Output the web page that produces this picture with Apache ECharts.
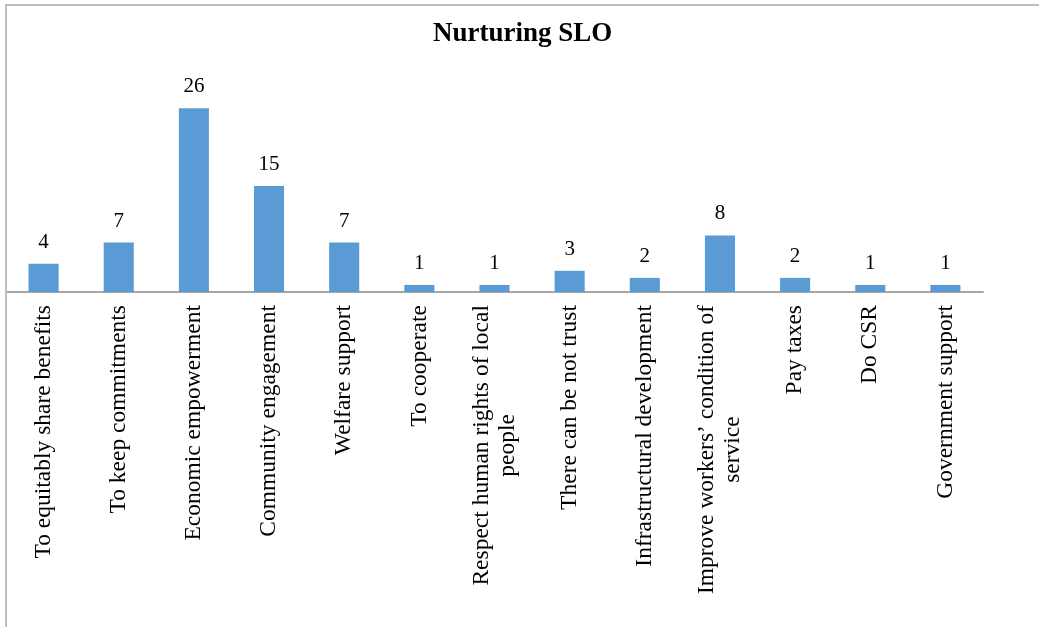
<!DOCTYPE html>
<html lang="en">

<head>
    <meta charset="UTF-8">
    <title>Nurturing SLO</title>
    <script src="https://cdn.jsdelivr.net/npm/echarts@6/dist/echarts.min.js"></script>
    <style>
        body { margin: 0; background: #fff; }
        #main { position: absolute; left: 0; top: 0; width: 1039px; height: 627px; }
        /* frame of the original chart area: only top and left edges show */
        #frame {
            position: absolute; left: 5px; top: 4px; width: 1034px; height: 623px;
            border-top: 2px solid #bdbdbd; border-left: 2px solid #bdbdbd;
            box-sizing: border-box; pointer-events: none;
        }
    </style>
</head>

<body>
    <div id="main"></div>
    <div id="frame"></div>

    <script type="text/javascript">
        // categories ('\n' marks where the label wraps)
        const categories = [
            'To equitably share benefits',
            'To keep commitments',
            'Economic empowerment',
            'Community engagement',
            'Welfare support',
            'To cooperate',
            'Respect human rights of local\npeople',
            'There can be not trust',
            'Infrastructural development',
            'Improve workers’ condition of\nservice',
            'Pay taxes',
            'Do CSR',
            'Government support'
        ];
        const counts = [4, 7, 26, 15, 7, 1, 1, 3, 2, 8, 2, 1, 1];

        const serif = "'Liberation Serif', 'Times New Roman', serif";

        var myChart = echarts.init(document.getElementById('main'));

        option = {
            animation: false,
            title: {
                text: 'Nurturing SLO',
                left: 433,
                top: 21,
                padding: 0,
                textStyle: {
                    fontFamily: serif,
                    fontWeight: 'bold',
                    fontSize: 27,
                    color: '#000'
                }
            },
            grid: {
                left: 6,
                right: 56,
                top: 80,
                bottom: 335
            },
            xAxis: {
                type: 'category',
                data: categories,
                axisLine: { lineStyle: { color: '#a6a6a6', width: 2 } },
                axisTick: { show: false },
                axisLabel: {
                    interval: 0,
                    rotate: 90,
                    margin: 13,
                    fontFamily: serif,
                    fontSize: 23.5,
                    color: '#000',
                    formatter: function (v) {
                        return v.split('\n').map(s => '{c|' + s + '}').join('\n');
                    },
                    rich: {
                        c: {
                            align: 'center',
                            fontFamily: serif,
                            fontSize: 23.5,
                            lineHeight: 26,
                            color: '#000'
                        }
                    }
                }
            },
            yAxis: {
                type: 'value',
                min: 0,
                max: 30,
                show: false
            },
            series: [
                {
                    type: 'bar',
                    data: counts,
                    barWidth: '40%',
                    itemStyle: { color: '#5B9BD5' },
                    label: {
                        show: true,
                        position: 'top',
                        distance: 11,
                        fontFamily: serif,
                        fontSize: 21,
                        color: '#000'
                    }
                }
            ]
        };

        myChart.setOption(option);
    </script>
</body>

</html>
